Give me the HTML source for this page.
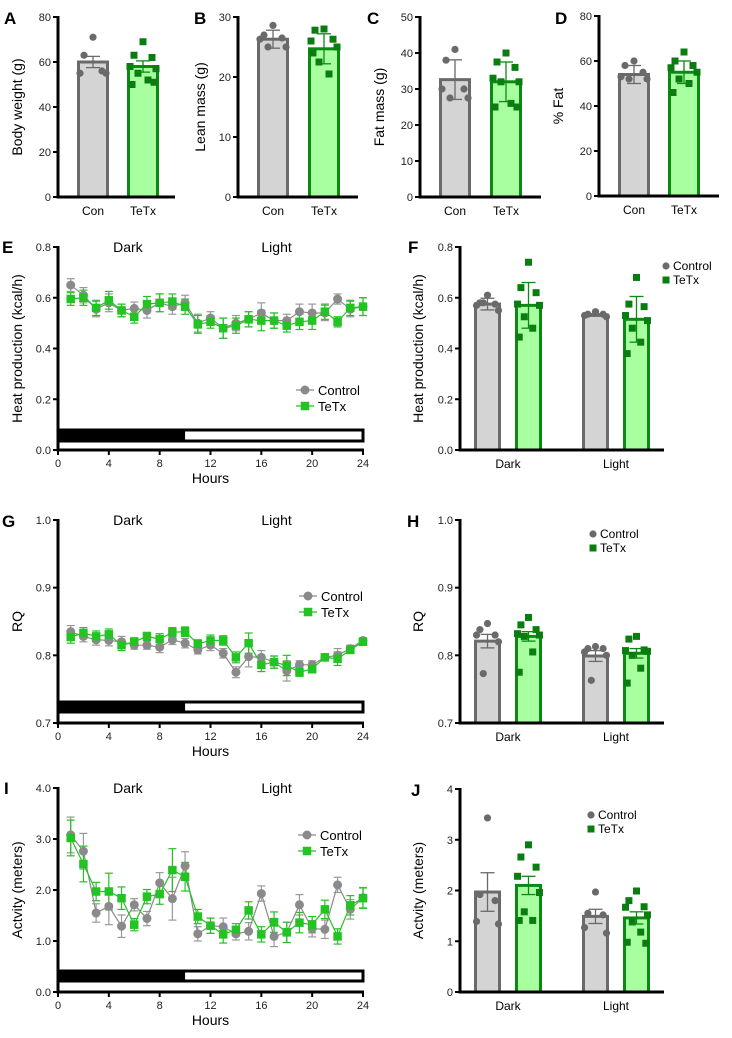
<!DOCTYPE html>
<html><head><meta charset="utf-8"><style>
body{margin:0;background:#fff;}
svg{display:block;font-family:"Liberation Sans",sans-serif;}
</style></head><body>
<svg id="fig" width="732" height="1038" viewBox="0 0 732 1038"></svg>
<script>
// ---- data ----
const hours = [1,2,3,4,5,6,7,8,9,10,11,12,13,14,15,16,17,18,19,20,21,22,23,24];
const heatCtrl = [0.65,0.61,0.555,0.58,0.55,0.558,0.55,0.58,0.565,0.58,0.50,0.52,0.48,0.50,0.515,0.54,0.51,0.51,0.545,0.54,0.54,0.595,0.555,0.565];
const heatTetx = [0.595,0.60,0.56,0.59,0.55,0.525,0.575,0.58,0.585,0.565,0.495,0.505,0.48,0.49,0.515,0.51,0.51,0.49,0.505,0.51,0.545,0.505,0.56,0.565];
const heatErr = [0.025,0.03,0.03,0.035,0.025,0.025,0.03,0.035,0.03,0.03,0.035,0.025,0.04,0.03,0.03,0.04,0.03,0.025,0.03,0.035,0.03,0.02,0.03,0.035];
const rqCtrl = [0.835,0.828,0.823,0.822,0.82,0.815,0.815,0.812,0.823,0.818,0.808,0.815,0.803,0.775,0.798,0.797,0.79,0.777,0.786,0.786,0.797,0.80,0.81,0.822];
const rqTetx = [0.827,0.833,0.828,0.831,0.815,0.82,0.828,0.824,0.834,0.835,0.817,0.822,0.822,0.797,0.818,0.786,0.79,0.785,0.775,0.78,0.797,0.795,0.808,0.82];
const rqErr = [0.009,0.008,0.008,0.008,0.008,0.006,0.006,0.008,0.007,0.007,0.006,0.008,0.007,0.008,0.015,0.01,0.009,0.015,0.006,0.006,0.005,0.01,0.005,0.004];
const actCtrl = [3.08,2.76,1.55,1.68,1.29,1.71,1.44,2.14,1.83,2.47,1.14,1.30,1.28,1.14,1.19,1.93,1.09,1.17,1.71,1.24,1.23,2.10,1.62,1.85];
const actTetx = [3.02,2.51,1.97,1.97,1.84,1.32,1.87,1.92,2.39,2.26,1.48,1.30,1.13,1.22,1.60,1.13,1.37,1.17,1.36,1.32,1.62,1.09,1.70,1.84];
const actErr = [0.35,0.35,0.18,0.36,0.22,0.12,0.14,0.2,0.42,0.28,0.14,0.15,0.17,0.12,0.17,0.15,0.2,0.2,0.2,0.16,0.18,0.15,0.19,0.2];

const groups = ["Con","TeTx"];
const phases = ["Dark","Light"];
const bwMeans = [60,58], bwErr = [2.5,2.5];
const bwCon = [71,63,56,55,55], bwTetx = [69,63,62,58,57,55,52,50,51];
const lmMeans = [26.3,24.7], lmErr = [1.5,2.5];
const lmCon = [28.6,27,26.5,26.3,25,25], lmTetx = [28,27.8,26.3,26,25,22.5,20.5,24];
const fmMeans = [32.6,32], fmErr = [5.5,5.5];
const fmCon = [41,38,30,30,27.5,27.5], fmTetx = [40,37.5,36,33,32,32,26,25,25];
const pfMeans = [54,55], pfErr = [4,5];
const pfCon = [60,58,55,53,52,52], pfTetx = [64,60,58,57,55,52,50,46];
const hpMeansCtrl = [0.575,0.532], hpMeansTetx = [0.57,0.515], hpErrCtrl=[0.023,0.005], hpErrTetx=[0.09,0.09];
const hpDarkCtrl = [0.61,0.58,0.575,0.57,0.55,0.58], hpDarkTetx=[0.74,0.64,0.62,0.575,0.57,0.525,0.48,0.445];
const hpLightCtrl = [0.545,0.535,0.535,0.53,0.525], hpLightTetx=[0.68,0.575,0.565,0.53,0.51,0.48,0.425,0.38];
const rqMeansCtrl = [0.821,0.799], rqMeansTetx=[0.828,0.803], rqBErrCtrl=[0.01,0.008], rqBErrTetx=[0.007,0.007];
const rqDarkCtrl=[0.847,0.838,0.83,0.83,0.82,0.773], rqDarkTetx=[0.856,0.845,0.838,0.832,0.83,0.828,0.805,0.775];
const rqLightCtrl=[0.813,0.81,0.81,0.805,0.80,0.763], rqLightTetx=[0.828,0.824,0.808,0.807,0.806,0.80,0.781,0.759];
const acMeansCtrl=[1.97,1.49], acMeansTetx=[2.1,1.46], acBErrCtrl=[0.38,0.14], acBErrTetx=[0.18,0.12];
const acDarkCtrl=[3.43,1.92,1.80,1.39,1.34], acDarkTetx=[2.9,2.66,2.46,2.28,1.96,1.58,1.41,1.41];
const acLightCtrl=[1.97,1.55,1.52,1.27,1.16], acLightTetx=[1.99,1.80,1.68,1.67,1.52,1.38,1.18,0.98,0.96];

// ---- helpers ----
const NS="http://www.w3.org/2000/svg";
const fig=document.getElementById('fig');
function el(tag,attrs,parent,text){const e=document.createElementNS(NS,tag);for(const k in attrs)e.setAttribute(k,attrs[k]);if(text!==undefined)e.textContent=text;(parent||fig).appendChild(e);return e;}
const GF="#d4d4d4",GS="#6a6a6a",GRF="#a8ffa0",GRS="#0b8a12",GD="#6a6a6a",GRD="#0a7d10",LC="#8a8a8a",LT="#22c322";

function axisY(g,x,top,bot,min,max,ticks,fmt,title,titleX){
  const sy=v=>bot-(v-min)/(max-min)*(bot-top);
  el('line',{x1:x,y1:top-1,x2:x,y2:bot+1.5,stroke:'#000','stroke-width':3},g);
  ticks.forEach(t=>{el('line',{x1:x-5,y1:sy(t),x2:x,y2:sy(t),stroke:'#000','stroke-width':2},g);
    const tx=el('text',{x:x-7,y:sy(t)+4,'font-size':11,'text-anchor':'end',fill:'#222'},g,fmt(t));
    
    });
  const ty=el('text',{x:titleX,y:(top+bot)/2,'font-size':14,'text-anchor':'middle',transform:`rotate(-90 ${titleX} ${(top+bot)/2})`},g,title);
  
  
  return sy;
}
function letter(t,x,y){const e=el('text',{x:x,y:y,'font-size':17,'font-weight':'bold'},fig,t);
  
  }
function circ(g,x,y,r,c){return el('circle',{cx:x,cy:y,r:r,fill:c},g);}
function sq(g,x,y,s,c){return el('rect',{x:x-s/2,y:y-s/2,width:s,height:s,fill:c},g);}
const jit=[0,-9,9,-13,13,-5,5,-11,11,-2];
function bar(g,x0,x1,sy,base,mean,err,fill,stroke,pts,dotcol,square,name){
  const b=el('rect',{x:x0+1.5,y:sy(mean),width:x1-x0-3,height:sy(base)-sy(mean),fill:fill,stroke:stroke,'stroke-width':3},g);
  
  
  const cx=(x0+x1)/2;
  pts.forEach((v,i)=>{const px=cx+jit[i%jit.length]*(x1-x0)/32;
    const m=square?sq(g,px,sy(v),7,dotcol):circ(g,px,sy(v),3.6,dotcol);
    
    });
  el('line',{x1:cx,y1:sy(mean+err),x2:cx,y2:sy(mean-err),stroke:stroke,'stroke-width':1.3},g);
  [mean+err,mean-err].forEach(v=>el('line',{x1:cx-7,y1:sy(v),x2:cx+7,y2:sy(v),stroke:stroke,'stroke-width':1.3},g));
}
function xAxis(g,x0,x1,y){el('line',{x1:x0,y1:y,x2:x1,y2:y,stroke:'#000','stroke-width':3},g);}
function xlab(g,x,y,t){const e=el('text',{x:x,y:y,'font-size':12,'text-anchor':'middle'},g,t);
  
  }

// ---- top row bar panels ----
function twoBar(name,ax,top,bot,max,ticks,means,errs,con,tet,title,titleX,b1,b2,endX){
  const g=el('g',{});  
  const sy=axisY(g,ax,top,bot,0,max,ticks,t=>t,title,titleX);
  bar(g,b1,b1+32,sy,0,means[0],errs[0],GF,GS,con,GD,false,'bar-con');
  bar(g,b2,b2+32,sy,0,means[1],errs[1],GRF,GRS,tet,GRD,true,'bar-tetx');
  xAxis(g,ax,endX,bot);
  xlab(g,b1+16,bot+18,groups[0]); xlab(g,b2+16,bot+18,groups[1]);
}
twoBar('panel-a-body-weight',58,17,197,80,[0,20,40,60,80],bwMeans,bwErr,bwCon,bwTetx,'Body weight (g)',22,77,127,175);
twoBar('panel-b-lean-mass',238,17,197,30,[0,10,20,30],lmMeans,lmErr,lmCon,lmTetx,'Lean mass (g)',205,257,308,358);
twoBar('panel-c-fat-mass',420,17,197,50,[0,10,20,30,40,50],fmMeans,fmErr,fmCon,fmTetx,'Fat mass (g)',384,439,490,541);
twoBar('panel-d-percent-fat',599,16,196,80,[0,20,40,60,80],pfMeans,pfErr,pfCon,pfTetx,'% Fat',563,618,668,719);
letter('A',4,24);letter('B',194,24);letter('C',367,24);letter('D',555,24);

// ---- time series panels ----
function timePanel(name,top,bot,min,max,ticks,fmt,ctrl,tet,err,title,barTop,barBot,legY,lx){
  const g=el('g',{});  
  const ax=58,xr=363;
  const sx=h=>ax+h/24*(xr-ax);
  const sy=axisY(g,ax,top,bot,min,max,ticks,fmt,title,22);
  xAxis(g,ax,xr+1,bot);
  [0,4,8,12,16,20,24].forEach(t=>{el('line',{x1:sx(t),y1:bot,x2:sx(t),y2:bot+5,stroke:'#000','stroke-width':2},g);
    const e=el('text',{x:sx(t),y:bot+17,'font-size':11,'text-anchor':'middle',fill:'#222'},g,t);
     });
  const ht=el('text',{x:sx(12),y:bot+33,'font-size':14,'text-anchor':'middle'},g,'Hours');
   
  const lb=el('rect',{x:ax,y:barTop,width:xr-ax,height:barBot-barTop,fill:'#fff',stroke:'#000','stroke-width':3},g);
   
  el('rect',{x:ax,y:barTop,width:sx(10)-ax,height:barBot-barTop,fill:'#000'},g);
  const d=el('text',{x:sx(5.5),y:top+5,'font-size':14,'text-anchor':'middle'},g,phases[0]);
   
  const l=el('text',{x:sx(17.2),y:top+5,'font-size':14,'text-anchor':'middle'},g,phases[1]);
   
  // errors
  hours.forEach((h,i)=>{[[ctrl,'#999'],[tet,LT]].forEach(([s,c])=>{
    el('line',{x1:sx(h),y1:sy(s[i]+err[i]),x2:sx(h),y2:sy(s[i]-err[i]),stroke:c,'stroke-width':1.2},g);
    [s[i]+err[i],s[i]-err[i]].forEach(v=>el('line',{x1:sx(h)-4,y1:sy(v),x2:sx(h)+4,y2:sy(v),stroke:c,'stroke-width':1.2},g));});});
  const pc=el('polyline',{points:hours.map((h,i)=>sx(h)+','+sy(ctrl[i])).join(' '),fill:'none',stroke:LC,'stroke-width':1.2},g);
   
  const pt=el('polyline',{points:hours.map((h,i)=>sx(h)+','+sy(tet[i])).join(' '),fill:'none',stroke:LT,'stroke-width':1.2},g);
   
  hours.forEach((h,i)=>{const a=circ(g,sx(h),sy(ctrl[i]),4.5,LC);
     
    const b=sq(g,sx(h),sy(tet[i]),8.5,LT);
     });
  // legend
  const lg=el('g',{},g);  
  el('line',{x1:lx-9,y1:legY,x2:lx+9,y2:legY,stroke:LC,'stroke-width':1.2},lg); circ(lg,lx,legY,4.5,LC);
  el('text',{x:lx+13,y:legY+5,'font-size':13},lg,'Control');
  el('line',{x1:lx-9,y1:legY+16,x2:lx+9,y2:legY+16,stroke:LT,'stroke-width':1.2},lg); sq(lg,lx,legY+16,8.5,LT);
  el('text',{x:lx+13,y:legY+21,'font-size':13},lg,'TeTx');
}
timePanel('panel-e-heat-time',247,450,0,0.8,[0,0.2,0.4,0.6,0.8],t=>t.toFixed(1),heatCtrl,heatTetx,heatErr,'Heat production (kcal/h)',430,441,390,305);
timePanel('panel-g-rq-time',520,723,0.7,1.0,[0.7,0.8,0.9,1.0],t=>t.toFixed(1),rqCtrl,rqTetx,rqErr,'RQ',702,712,596,308);
timePanel('panel-i-activity-time',788,992,0,4,[0,1,2,3,4],t=>t.toFixed(1),actCtrl,actTetx,actErr,'Actvity (meters)',971,981,835,307);
letter('E',2,253);letter('G',2,527);letter('I',4,794);

// ---- right bar panels ----
function fourBar(name,top,bot,min,max,ticks,fmt,mC,mT,eC,eT,dC,dT,lC,lT,title,legX,legY){
  const g=el('g',{});  
  const ax=460;
  const sy=axisY(g,ax,top,bot,min,max,ticks,fmt,title,423);
  bar(g,474,501,sy,min,mC[0],eC[0],GF,GS,dC,GD,false,'bar-dark-control');
  bar(g,515,542,sy,min,mT[0],eT[0],GRF,GRS,dT,GRD,true,'bar-dark-tetx');
  bar(g,582,609,sy,min,mC[1],eC[1],GF,GS,lC,GD,false,'bar-light-control');
  bar(g,623,650,sy,min,mT[1],eT[1],GRF,GRS,lT,GRD,true,'bar-light-tetx');
  xAxis(g,ax,664,bot);
  xlab(g,508,bot+18,phases[0]); xlab(g,616,bot+18,phases[1]);
  const lg=el('g',{},g);  
  circ(lg,legX,legY,3.6,GD); el('text',{x:legX+7,y:legY+4,'font-size':12},lg,'Control');
  sq(lg,legX,legY+14,7,GRD); el('text',{x:legX+7,y:legY+18,'font-size':12},lg,'TeTx');
}
fourBar('panel-f-heat-bars',247,450,0,0.8,[0,0.2,0.4,0.6,0.8],t=>t.toFixed(1),hpMeansCtrl,hpMeansTetx,hpErrCtrl,hpErrTetx,hpDarkCtrl,hpDarkTetx,hpLightCtrl,hpLightTetx,'Heat production (kcal/h)',666,266);
fourBar('panel-h-rq-bars',520,723,0.7,1.0,[0.7,0.8,0.9,1.0],t=>t.toFixed(1),rqMeansCtrl,rqMeansTetx,rqBErrCtrl,rqBErrTetx,rqDarkCtrl,rqDarkTetx,rqLightCtrl,rqLightTetx,'RQ',593,534);
fourBar('panel-j-activity-bars',789,992,0,4,[0,1,2,3,4],t=>t,acMeansCtrl,acMeansTetx,acBErrCtrl,acBErrTetx,acDarkCtrl,acDarkTetx,acLightCtrl,acLightTetx,'Actvity (meters)',591,815);
letter('F',408,253);letter('H',407,527);letter('J',411,796);
</script>
</body></html>
